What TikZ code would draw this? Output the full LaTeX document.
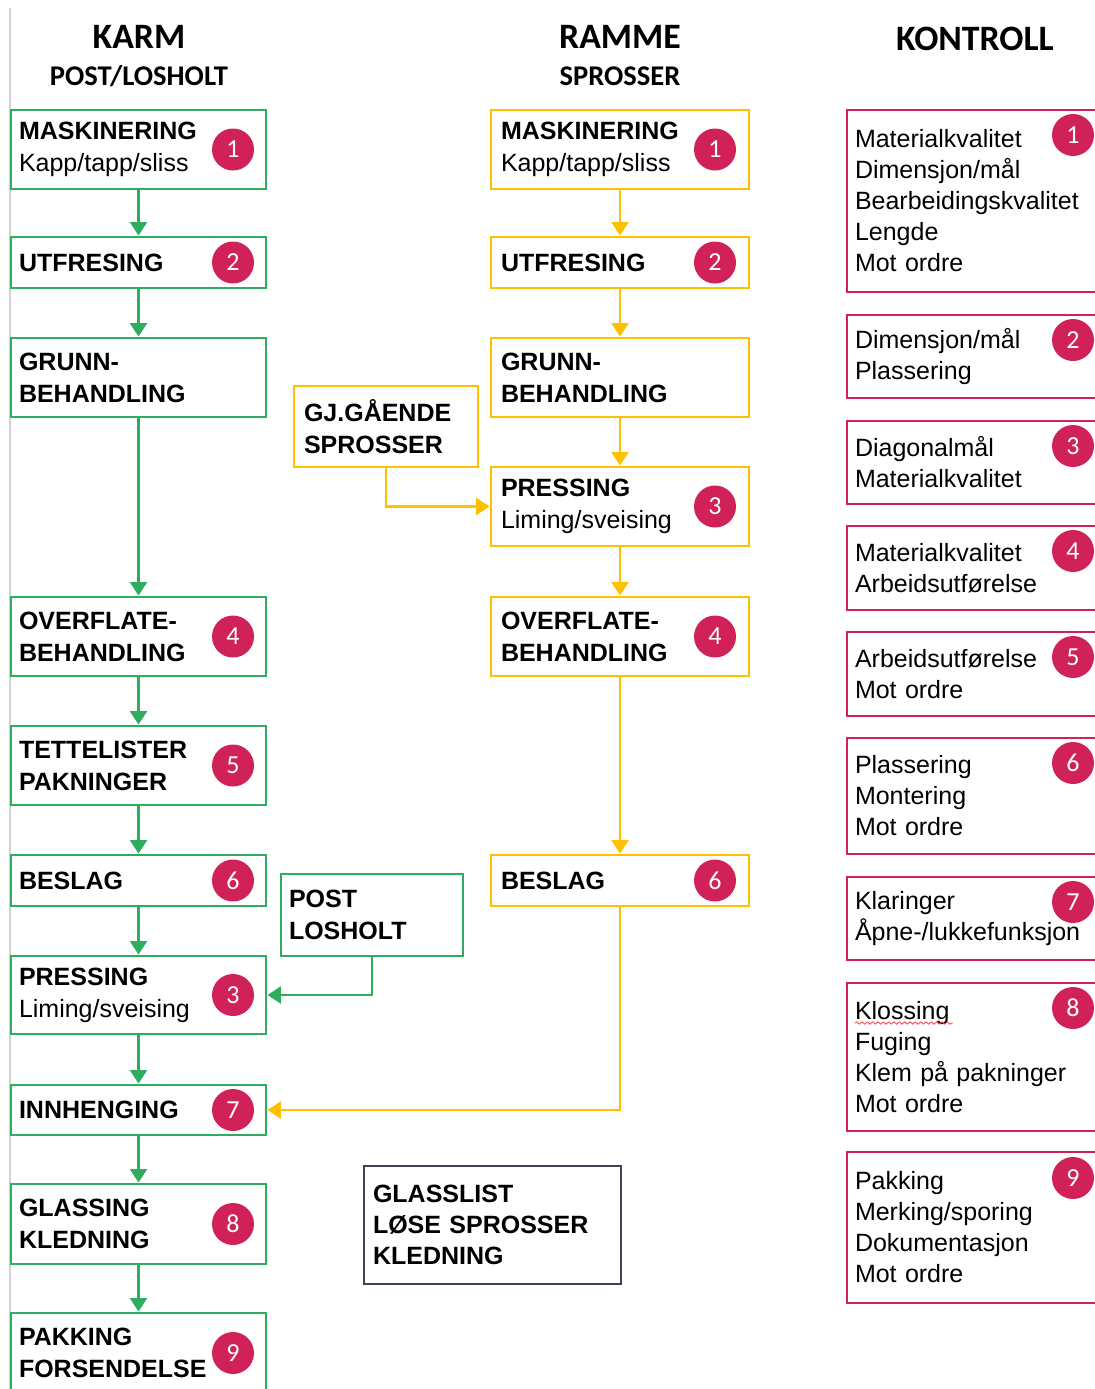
\documentclass[tikz,border=0pt]{standalone}
\usepackage{fontspec}
\setmainfont{Liberation Sans}
\newfontfamily\headfont{Carlito}
\usetikzlibrary{arrows.meta,decorations.pathmorphing}
\definecolor{kgreen}{HTML}{2EAD5F}
\definecolor{kyellow}{HTML}{FFC000}
\definecolor{kred}{HTML}{D02258}
\definecolor{kslate}{HTML}{3E4353}
\tikzset{
  base/.style={draw, line width=2.2pt, align=left, inner ysep=0pt, fill=white,
    font=\fontsize{18.75}{24}\selectfont},
  gbox/.style={base, draw=kgreen, inner xsep=6pt, text width=179.25pt},
  ybox/.style={base, draw=kyellow, inner xsep=7.5pt, text width=178.5pt},
  rbox/.style={base, draw=kred, inner xsep=6pt, text width=189pt,
    font=\fontsize{18.75}{23.25}\selectfont},
  sbox/.style={base, draw=kslate, inner xsep=6.75pt, text width=179.25pt,
    font=\fontsize{18.75}{23}\selectfont},
  badge/.style={circle, fill=kred, text=white, minimum size=31.5pt, inner sep=0pt,
    font=\headfont\fontsize{19.5}{19.5}\selectfont},
  garrow/.style={draw=kgreen, line width=2.2pt, -{Triangle[width=12.5pt,length=10pt]}},
  yarrow/.style={draw=kyellow, line width=2.2pt, -{Triangle[width=12.5pt,length=10pt]}},
  head/.style={font=\headfont\bfseries\fontsize{26.8}{30}\selectfont},
  subhead/.style={font=\headfont\bfseries\fontsize{21.4}{24}\selectfont},
}
\begin{document}
\begin{tikzpicture}[x=0.75pt,y=-0.75pt]
\useasboundingbox (0,0) rectangle (1095,1389);
\fill[white] (0,0) rectangle (1095,1389);
\clip (0,0) rectangle (1095,1389);
\draw[gray!35, line width=1.2pt] (10,8) -- (10,1389);

% headers
\node[head] (hkarm) at (139,37) {KARM};
\node[subhead] (hpost) at (139,76) {POST/LOSHOLT};
\node[head] (hramme) at (620,37) {RAMME};
\node[subhead] (hspr) at (620,76) {SPROSSER};
\node[head] (hkontroll) at (975,39) {KONTROLL};

% left column (green)
\node[gbox, minimum height=59.25pt] (lmask) at (138.5,149.5) {\textbf{MASKINERING}\\Kapp/tapp/sliss};
\node[gbox, minimum height=38.25pt] (lutf) at (138.5,262.5) {\textbf{UTFRESING}};
\node[gbox, minimum height=59.25pt] (lgrunn) at (138.5,377.5) {\textbf{GRUNN-}\\\textbf{BEHANDLING}};
\node[gbox, minimum height=59.25pt] (lover) at (138.5,636.5) {\textbf{OVERFLATE-}\\\textbf{BEHANDLING}};
\node[gbox, minimum height=59.25pt] (ltette) at (138.5,765.5) {\textbf{TETTELISTER}\\\textbf{PAKNINGER}};
\node[gbox, minimum height=38.25pt] (lbeslag) at (138.5,880.5) {\textbf{BESLAG}};
\node[gbox, minimum height=58.5pt] (lpress) at (138.5,995) {\textbf{PRESSING}\\Liming/sveising};
\node[gbox, minimum height=37.5pt] (linnh) at (138.5,1110) {\textbf{INNHENGING}};
\node[gbox, minimum height=60pt] (lglass) at (138.5,1224) {\textbf{GLASSING}\\\textbf{KLEDNING}};
\node[gbox, minimum height=60pt] (lpakk) at (138.5,1353) {\textbf{PAKKING}\\\textbf{FORSENDELSE}};

% middle column (yellow)
\node[ybox, minimum height=59.25pt] (mmask) at (620,149.5) {\textbf{MASKINERING}\\Kapp/tapp/sliss};
\node[ybox, minimum height=38.25pt] (mutf) at (620,262.5) {\textbf{UTFRESING}};
\node[ybox, minimum height=59.25pt] (mgrunn) at (620,377.5) {\textbf{GRUNN-}\\\textbf{BEHANDLING}};
\node[ybox, minimum height=59.25pt] (mpress) at (620,506.5) {\textbf{PRESSING}\\Liming/sveising};
\node[ybox, minimum height=59.25pt] (mover) at (620,636.5) {\textbf{OVERFLATE-}\\\textbf{BEHANDLING}};
\node[ybox, minimum height=38.25pt] (mbeslag) at (620,880.5) {\textbf{BESLAG}};

% side boxes
\node[base, draw=kyellow, inner xsep=7.5pt, text width=123pt, minimum height=60.75pt] (gj) at (386,426.5) {\textbf{GJ.GÅENDE}\\\textbf{SPROSSER}};
\node[base, draw=kgreen, inner xsep=6pt, text width=124.5pt, minimum height=61.5pt] (post) at (372,915) {\textbf{POST}\\\textbf{LOSHOLT}};
\node[sbox, minimum height=88.5pt] (glass) at (492.5,1225) {\textbf{GLASSLIST}\\\textbf{LØSE SPROSSER}\\\textbf{KLEDNING}};

% right column (control)
\node[rbox, minimum height=136.5pt] (r1) at (981,201) {Materialkvalitet\\Dimensjon/mål\\Bearbeidingskvalitet\\Lengde\\Mot ordre};
\node[rbox, minimum height=62.25pt] (r2) at (981,356.5) {Dimensjon/mål\\Plassering};
\node[rbox, minimum height=62.25pt] (r3) at (981,462.5) {Diagonalmål\\Materialkvalitet};
\node[rbox, minimum height=63pt] (r4) at (981,568) {Materialkvalitet\\Arbeidsutførelse};
\node[rbox, minimum height=63pt] (r5) at (981,674) {Arbeidsutførelse\\Mot ordre};
\node[rbox, minimum height=87pt] (r6) at (981,796) {Plassering\\Montering\\Mot ordre};
\node[rbox, minimum height=62.25pt] (r7) at (981,918.5) {Klaringer\\Åpne-/lukkefunksjon};
\node[rbox, minimum height=111pt] (r8) at (981,1057) {Klossing\\Fuging\\Klem på pakninger\\Mot ordre};
\node[rbox, minimum height=113.25pt] (r9) at (981,1227.5) {Pakking\\Merking/sporing\\Dokumentasjon\\Mot ordre};
\draw[red!75, line width=0.6pt, decorate, decoration={snake, amplitude=0.9pt, segment length=4pt}] (855,1023) -- (953,1023);

% badges
\node[badge] (bl1) at (233,149.5) {1};
\node[badge] (bl2) at (233,262.5) {2};
\node[badge] (bl4) at (233,636.5) {4};
\node[badge] (bl5) at (233,765.5) {5};
\node[badge] (bl6) at (233,880.5) {6};
\node[badge] (bl3) at (233,995) {3};
\node[badge] (bl7) at (233,1110) {7};
\node[badge] (bl8) at (233,1224) {8};
\node[badge] (bl9) at (233,1353) {9};
\node[badge] (bm1) at (715,149.5) {1};
\node[badge] (bm2) at (715,262.5) {2};
\node[badge] (bm3) at (715,506.5) {3};
\node[badge] (bm4) at (715,636.5) {4};
\node[badge] (bm6) at (715,880.5) {6};
\node[badge] (br1) at (1073,135) {1};
\node[badge] (br2) at (1073,340) {2};
\node[badge] (br3) at (1073,446) {3};
\node[badge] (br4) at (1073,551) {4};
\node[badge] (br5) at (1073,657) {5};
\node[badge] (br6) at (1073,763) {6};
\node[badge] (br7) at (1073,902) {7};
\node[badge] (br8) at (1073,1008) {8};
\node[badge] (br9) at (1073,1178) {9};

% green connectors
\draw[garrow] (lmask) -- (lutf);
\draw[garrow] (lutf) -- (lgrunn);
\draw[garrow] (lgrunn) -- (lover);
\draw[garrow] (lover) -- (ltette);
\draw[garrow] (ltette) -- (lbeslag);
\draw[garrow] (lbeslag) -- (lpress);
\draw[garrow] (lpress) -- (linnh);
\draw[garrow] (linnh) -- (lglass);
\draw[garrow] (lglass) -- (lpakk);
\draw[garrow] (post.south) |- (lpress.east);

% yellow connectors
\draw[yarrow] (mmask) -- (mutf);
\draw[yarrow] (mutf) -- (mgrunn);
\draw[yarrow] (mgrunn) -- (mpress);
\draw[yarrow] (mpress) -- (mover);
\draw[yarrow] (mover) -- (mbeslag);
\draw[yarrow] (gj.south) |- (mpress.west);
\draw[yarrow] (mbeslag.south) |- (linnh.east);
\end{tikzpicture}
\end{document}
